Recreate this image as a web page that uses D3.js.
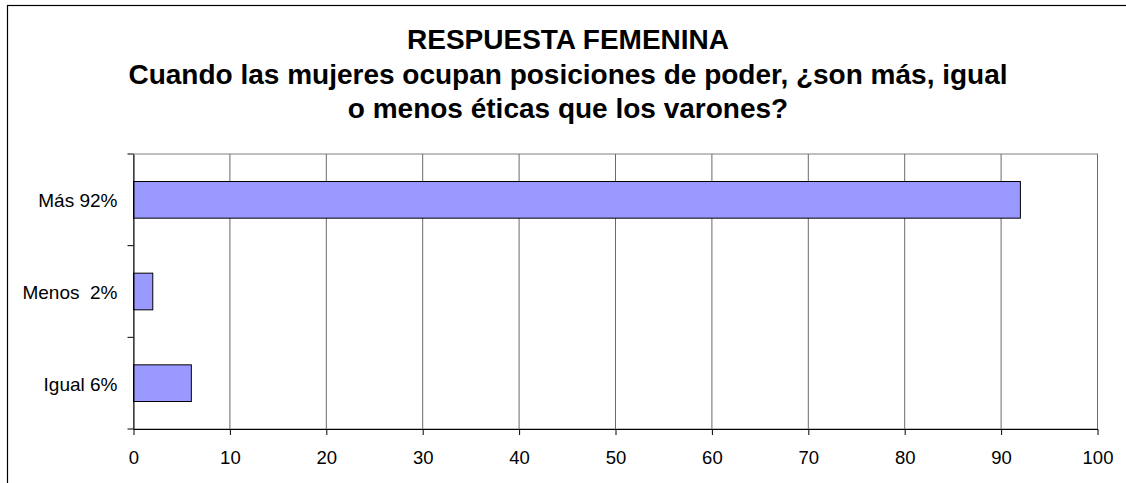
<!DOCTYPE html>
<html>
<head>
<meta charset="utf-8">
<script src="https://cdnjs.cloudflare.com/ajax/libs/d3/7.8.5/d3.min.js"></script>
<style>
  body { margin: 0; background: #fff; }
  svg { display: block; }
  text { font-family: "Liberation Sans", Arial, sans-serif; fill: #000; }
</style>
</head>
<body>
<svg id="chart"></svg>
<script>
const categories = ["Más 92%", "Menos  2%", "Igual 6%"];
const values = [92, 2, 6];
const xTicks = [0, 10, 20, 30, 40, 50, 60, 70, 80, 90, 100];
const titleLines = [
  "RESPUESTA FEMENINA",
  "Cuando las mujeres ocupan posiciones de poder, ¿son más, igual",
  "o menos éticas que los varones?"
];

const svgWidth = 1126;
const svgHeight = 483;
const m_left = 133.5;
const m_right = 28.5;
const m_top = 154;
const m_bottom = 54;
const width = svgWidth - m_left - m_right;
const height = svgHeight - m_top - m_bottom;

const svg = d3.select("#chart")
  .attr("width", svgWidth)
  .attr("height", svgHeight);

// outer chart frame (runs off the right and bottom edges)
svg.append("rect")
  .attr("x", 7.5)
  .attr("y", 5.5)
  .attr("width", svgWidth + 20)
  .attr("height", svgHeight + 20)
  .attr("fill", "none")
  .attr("stroke", "#000")
  .attr("stroke-width", 1.2);

svg.append("g")
  .selectAll("text")
  .data(titleLines)
  .join("text")
  .attr("x", 568)
  .attr("y", (d, i) => 49 + i * 34.5)
  .attr("text-anchor", "middle")
  .style("font-size", "28px")
  .style("font-weight", "bold")
  .text(d => d);

const chart = svg.append("g")
  .attr("transform", `translate(${m_left}, ${m_top})`);

const xScale = d3.scaleLinear()
  .domain([0, 100])
  .range([0, width]);

const yScale = d3.scaleBand()
  .domain(categories)
  .range([0, height])
  .paddingInner(0.6)
  .paddingOuter(0.3);

// plot area border
chart.append("rect")
  .attr("x", 0)
  .attr("y", 0)
  .attr("width", width)
  .attr("height", height)
  .attr("fill", "none")
  .attr("stroke", "#808080")
  .attr("stroke-width", 1);

// vertical gridlines
chart.append("g")
  .selectAll("line")
  .data(xTicks.slice(1))
  .join("line")
  .attr("x1", d => xScale(d))
  .attr("x2", d => xScale(d))
  .attr("y1", 0)
  .attr("y2", height)
  .attr("stroke", "#6a6a6a")
  .attr("stroke-width", 1);

chart.selectAll(".bar")
  .data(categories)
  .join("rect")
  .attr("class", "bar")
  .attr("x", xScale(0))
  .attr("y", d => yScale(d))
  .attr("width", (d, i) => xScale(values[i]) - xScale(0))
  .attr("height", yScale.bandwidth())
  .attr("fill", "#9999ff")
  .attr("stroke", "#000")
  .attr("stroke-width", 1);

const xAxis = chart.append("g")
  .attr("transform", `translate(0, ${height})`)
  .call(d3.axisBottom(xScale).tickValues(xTicks).tickSize(6).tickSizeOuter(0).tickPadding(16));
xAxis.select(".domain").attr("stroke", "#000");
xAxis.selectAll("text")
  .attr("font-family", null)
  .style("font-size", "18.5px");

const yAxis = chart.append("g")
  .call(d3.axisLeft(yScale).tickSize(0).tickSizeOuter(0).tickPadding(16));
yAxis.select(".domain").attr("stroke", "#000");
yAxis.selectAll("text")
  .attr("font-family", null)
  .attr("dy", "0.4em")
  .style("font-size", "19px")
  .style("white-space", "pre");

// category boundary ticks on the left axis
const gap = (yScale.step() - yScale.bandwidth()) / 2;
const bounds = categories.map(d => yScale(d) - gap).concat([height]);
chart.append("g")
  .selectAll("line")
  .data(bounds)
  .join("line")
  .attr("x1", -6)
  .attr("x2", 0)
  .attr("y1", d => d)
  .attr("y2", d => d)
  .attr("stroke", "#000");
</script>
</body>
</html>
